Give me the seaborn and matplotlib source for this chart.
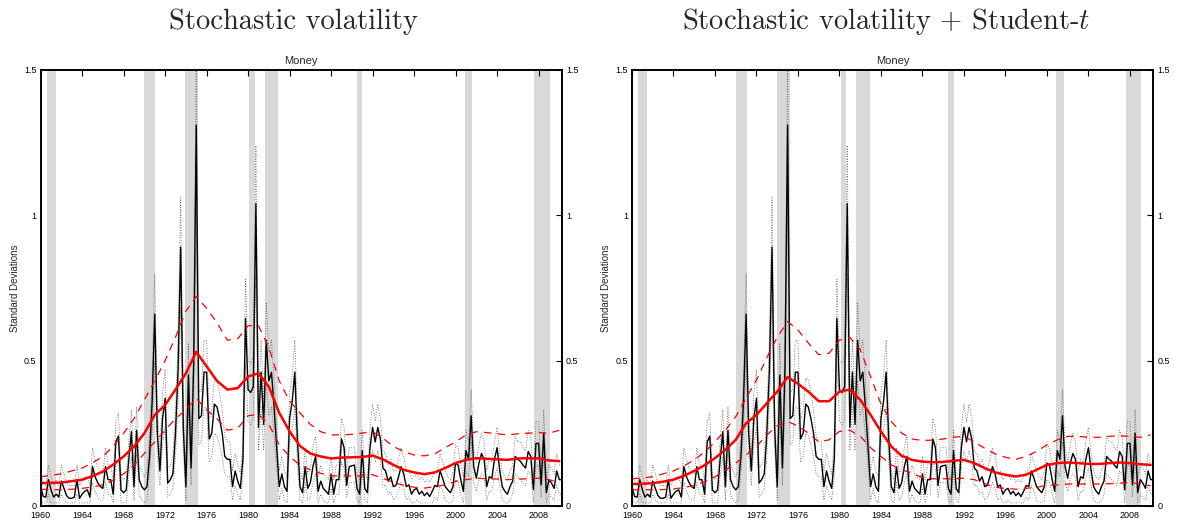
import numpy as np
import pandas as pd
import matplotlib
matplotlib.use("Agg")
import matplotlib.pyplot as plt
import seaborn as sns

# quarterly posterior median of the money shock standard deviation (1960Q1 - 2010Q2)
sv_median = [
    0.066, 0.032, 0.030, 0.090,  0.055, 0.030, 0.040, 0.030,  0.085, 0.060, 0.035, 0.026,
    0.026, 0.030, 0.090, 0.026,  0.040, 0.050, 0.055, 0.030,  0.135, 0.100, 0.080, 0.066,
    0.060, 0.135, 0.090, 0.090,  0.040, 0.220, 0.240, 0.055,  0.045, 0.055, 0.160, 0.255,
    0.066, 0.260, 0.090, 0.066,  0.055, 0.066, 0.170, 0.360,  0.660, 0.250, 0.120, 0.300,
    0.370, 0.078, 0.090, 0.110,  0.250, 0.470, 0.890, 0.270,  0.066, 0.450, 0.130, 0.480,
    1.310, 0.300, 0.310, 0.460,  0.460, 0.230, 0.250, 0.350,  0.340, 0.300, 0.250, 0.170,
    0.160, 0.160, 0.066, 0.120,  0.085, 0.060, 0.160, 0.645,  0.400, 0.390, 0.410, 1.040,
    0.270, 0.460, 0.280, 0.570,  0.430, 0.460, 0.340, 0.200,  0.066, 0.110, 0.066, 0.050,
    0.300, 0.360, 0.460, 0.230,  0.066, 0.045, 0.135, 0.060,  0.080, 0.135, 0.170, 0.050,
    0.085, 0.060, 0.050, 0.040,  0.110, 0.040, 0.090, 0.090,  0.230, 0.200, 0.070, 0.135,
    0.138, 0.140, 0.060, 0.040,  0.190, 0.060, 0.045, 0.200,  0.270, 0.220, 0.270, 0.230,
    0.130, 0.120, 0.085, 0.100,  0.066, 0.070, 0.100, 0.135,  0.110, 0.066, 0.072, 0.040,
    0.055, 0.060, 0.040, 0.050,  0.035, 0.045, 0.032, 0.050,  0.070, 0.066, 0.120, 0.095,
    0.066, 0.055, 0.045, 0.066,  0.147, 0.140, 0.090, 0.050,  0.190, 0.160, 0.310, 0.135,
    0.095, 0.147, 0.180, 0.160,  0.066, 0.100, 0.095, 0.160,  0.200, 0.124, 0.066, 0.050,
    0.040, 0.066, 0.085, 0.170,  0.160, 0.153, 0.140, 0.130,  0.187, 0.170, 0.055, 0.215,
    0.215, 0.072, 0.250, 0.045,  0.090, 0.078, 0.060, 0.120,  0.090, 0.090,
]
sv_upper = [
    0.12, 0.08, 0.07, 0.14,  0.10, 0.07, 0.09, 0.07,  0.14, 0.11, 0.08, 0.07,
    0.07, 0.07, 0.14, 0.07,  0.09, 0.10, 0.10, 0.07,  0.20, 0.16, 0.13, 0.12,
    0.11, 0.20, 0.14, 0.14,  0.09, 0.29, 0.32, 0.10,  0.09, 0.10, 0.22, 0.33,
    0.12, 0.34, 0.14, 0.12,  0.10, 0.12, 0.24, 0.45,  0.80, 0.33, 0.18, 0.39,
    0.47, 0.13, 0.14, 0.17,  0.33, 0.58, 1.06, 0.35,  0.12, 0.56, 0.19, 0.59,
    1.55, 0.39, 0.40, 0.57,  0.57, 0.30, 0.33, 0.44,  0.43, 0.39, 0.33, 0.24,
    0.22, 0.22, 0.12, 0.18,  0.14, 0.11, 0.22, 0.78,  0.50, 0.49, 0.51, 1.24,
    0.35, 0.57, 0.36, 0.70,  0.53, 0.57, 0.43, 0.27,  0.12, 0.17, 0.12, 0.10,
    0.39, 0.45, 0.57, 0.30,  0.12, 0.09, 0.20, 0.11,  0.13, 0.20, 0.24, 0.10,
    0.14, 0.11, 0.10, 0.09,  0.17, 0.09, 0.14, 0.14,  0.30, 0.27, 0.12, 0.20,
    0.20, 0.20, 0.11, 0.09,  0.26, 0.11, 0.09, 0.27,  0.35, 0.29, 0.35, 0.30,
    0.19, 0.18, 0.14, 0.16,  0.12, 0.12, 0.16, 0.20,  0.17, 0.12, 0.12, 0.09,
    0.10, 0.11, 0.09, 0.10,  0.08, 0.09, 0.08, 0.10,  0.12, 0.12, 0.18, 0.15,
    0.12, 0.10, 0.09, 0.12,  0.21, 0.20, 0.14, 0.10,  0.26, 0.22, 0.40, 0.20,
    0.15, 0.21, 0.25, 0.22,  0.12, 0.16, 0.15, 0.22,  0.27, 0.18, 0.12, 0.10,
    0.09, 0.12, 0.14, 0.24,  0.22, 0.22, 0.20, 0.19,  0.26, 0.24, 0.10, 0.29,
    0.29, 0.12, 0.33, 0.09,  0.14, 0.13, 0.11, 0.18,  0.14, 0.14,
]
sv_lower = [
    0.02, 0.01, 0.01, 0.04,  0.01, 0.01, 0.01, 0.01,  0.04, 0.02, 0.01, 0.01,
    0.01, 0.01, 0.04, 0.01,  0.01, 0.01, 0.01, 0.01,  0.08, 0.05, 0.03, 0.02,
    0.02, 0.08, 0.04, 0.04,  0.01, 0.15, 0.16, 0.01,  0.01, 0.01, 0.10, 0.17,
    0.02, 0.18, 0.04, 0.02,  0.01, 0.02, 0.11, 0.26,  0.50, 0.17, 0.07, 0.21,
    0.27, 0.03, 0.04, 0.06,  0.17, 0.35, 0.68, 0.19,  0.02, 0.33, 0.07, 0.35,
    1.02, 0.21, 0.22, 0.34,  0.34, 0.15, 0.17, 0.25,  0.24, 0.21, 0.17, 0.11,
    0.10, 0.10, 0.02, 0.07,  0.04, 0.02, 0.10, 0.49,  0.29, 0.28, 0.30, 0.80,
    0.19, 0.34, 0.19, 0.43,  0.31, 0.34, 0.24, 0.13,  0.02, 0.06, 0.02, 0.01,
    0.21, 0.26, 0.34, 0.15,  0.02, 0.01, 0.08, 0.02,  0.03, 0.08, 0.11, 0.01,
    0.04, 0.02, 0.01, 0.01,  0.06, 0.01, 0.04, 0.04,  0.15, 0.13, 0.03, 0.08,
    0.08, 0.08, 0.02, 0.01,  0.12, 0.02, 0.01, 0.13,  0.19, 0.15, 0.19, 0.15,
    0.07, 0.07, 0.04, 0.05,  0.02, 0.03, 0.05, 0.08,  0.06, 0.02, 0.03, 0.01,
    0.01, 0.02, 0.01, 0.01,  0.01, 0.01, 0.01, 0.01,  0.03, 0.02, 0.07, 0.05,
    0.02, 0.01, 0.01, 0.02,  0.09, 0.08, 0.04, 0.01,  0.12, 0.10, 0.22, 0.08,
    0.05, 0.09, 0.11, 0.10,  0.02, 0.05, 0.05, 0.10,  0.13, 0.07, 0.02, 0.01,
    0.01, 0.02, 0.04, 0.11,  0.10, 0.09, 0.08, 0.07,  0.12, 0.11, 0.01, 0.14,
    0.14, 0.03, 0.17, 0.01,  0.04, 0.03, 0.02, 0.07,  0.04, 0.04,
]

# yearly smooth (red) estimates, 1960 - 2010
trend_years = list(range(1960, 2011))
sv_trend = [
    0.078, 0.079, 0.080, 0.085, 0.090, 0.102, 0.118, 0.142, 0.170, 0.204,
    0.250, 0.313, 0.347, 0.400, 0.456, 0.530, 0.480, 0.430, 0.400, 0.405,
    0.445, 0.456, 0.410, 0.320, 0.256, 0.206, 0.180, 0.170, 0.163, 0.166,
    0.167, 0.168, 0.173, 0.160, 0.141, 0.124, 0.115, 0.109, 0.115, 0.130,
    0.147, 0.158, 0.164, 0.162, 0.160, 0.158, 0.163, 0.164, 0.163, 0.156,
    0.154,
]
sv_trend_hi = [
    0.100, 0.105, 0.110, 0.120, 0.130, 0.148, 0.170, 0.205, 0.250, 0.300,
    0.365, 0.430, 0.500, 0.580, 0.670, 0.720, 0.680, 0.630, 0.570, 0.575,
    0.620, 0.620, 0.545, 0.430, 0.360, 0.320, 0.280, 0.255, 0.244, 0.244,
    0.246, 0.250, 0.255, 0.233, 0.204, 0.187, 0.175, 0.172, 0.179, 0.200,
    0.220, 0.244, 0.255, 0.252, 0.248, 0.244, 0.248, 0.250, 0.252, 0.250,
    0.260,
]
sv_trend_lo = [
    0.057, 0.056, 0.055, 0.057, 0.060, 0.065, 0.072, 0.088, 0.110, 0.140,
    0.180, 0.220, 0.260, 0.300, 0.330, 0.370, 0.330, 0.300, 0.260, 0.267,
    0.310, 0.315, 0.280, 0.210, 0.170, 0.140, 0.124, 0.112, 0.103, 0.103,
    0.103, 0.103, 0.107, 0.095, 0.080, 0.071, 0.064, 0.061, 0.066, 0.072,
    0.084, 0.090, 0.095, 0.093, 0.092, 0.090, 0.092, 0.093, 0.095, 0.090,
    0.080,
]
svt_trend = [
    0.075, 0.076, 0.078, 0.083, 0.090, 0.103, 0.120, 0.140, 0.164, 0.193,
    0.227, 0.284, 0.313, 0.353, 0.393, 0.443, 0.420, 0.393, 0.360, 0.360,
    0.393, 0.400, 0.365, 0.313, 0.256, 0.204, 0.172, 0.158, 0.152, 0.150,
    0.151, 0.155, 0.158, 0.147, 0.130, 0.115, 0.107, 0.101, 0.107, 0.124,
    0.141, 0.147, 0.149, 0.147, 0.144, 0.144, 0.147, 0.149, 0.147, 0.143,
    0.141,
]
svt_trend_hi = [
    0.093, 0.096, 0.100, 0.110, 0.120, 0.137, 0.158, 0.185, 0.220, 0.260,
    0.307, 0.370, 0.433, 0.510, 0.580, 0.634, 0.605, 0.560, 0.520, 0.525,
    0.570, 0.580, 0.537, 0.445, 0.350, 0.290, 0.250, 0.230, 0.225, 0.226,
    0.230, 0.236, 0.239, 0.220, 0.198, 0.179, 0.167, 0.160, 0.170, 0.187,
    0.210, 0.227, 0.239, 0.239, 0.236, 0.236, 0.239, 0.241, 0.239, 0.236,
    0.244,
]
svt_trend_lo = [
    0.055, 0.055, 0.055, 0.056, 0.058, 0.063, 0.070, 0.083, 0.100, 0.122,
    0.147, 0.175, 0.204, 0.244, 0.275, 0.290, 0.275, 0.250, 0.220, 0.227,
    0.256, 0.260, 0.240, 0.200, 0.170, 0.141, 0.124, 0.112, 0.097, 0.093,
    0.093, 0.093, 0.095, 0.090, 0.076, 0.064, 0.060, 0.057, 0.060, 0.064,
    0.070, 0.072, 0.075, 0.075, 0.075, 0.075, 0.076, 0.078, 0.080, 0.076,
    0.069,
]

recessions = [(1960.6, 1961.45), (1970.0, 1971.05), (1973.95, 1975.2), (1980.1, 1980.65),
              (1981.6, 1982.9), (1990.5, 1991.0), (2000.9, 2001.6), (2007.6, 2009.1)]

quarters = pd.period_range("1960Q1", periods=len(sv_median), freq="Q")
qdates = quarters.year + (quarters.quarter - 1) / 4.0

panel_titles = ["Stochastic volatility", "Stochastic volatility + Student-$t$"]
panel_trends = [(sv_trend, sv_trend_hi, sv_trend_lo), (svt_trend, svt_trend_hi, svt_trend_lo)]

sns.set_style("white")
plt.rcParams["font.family"] = ["Liberation Sans", "DejaVu Sans"]
plt.rcParams["mathtext.fontset"] = "cm"

fig = plt.figure(figsize=(11.78, 5.22), dpi=100)
axes = [fig.add_axes([0.0345, 0.031, 0.4425, 0.835]),
        fig.add_axes([0.5365, 0.031, 0.4425, 0.835])]

for ax, title, (trend, trend_hi, trend_lo), cx in zip(axes, panel_titles, panel_trends, [0.249, 0.752]):
    for a, b in recessions:
        ax.axvspan(a, b, color="#d9d9d9", lw=0, zorder=0)

    sns.lineplot(x=qdates, y=sv_upper, ax=ax, color="0.35", lw=0.6, linestyle=(0, (1, 2)))
    sns.lineplot(x=qdates, y=sv_lower, ax=ax, color="0.35", lw=0.6, linestyle=(0, (1, 2)))
    sns.lineplot(x=qdates, y=sv_median, ax=ax, color="black", lw=1.0)
    sns.lineplot(x=trend_years, y=trend_hi, ax=ax, color="red", lw=0.9, linestyle=(0, (6, 5)))
    sns.lineplot(x=trend_years, y=trend_lo, ax=ax, color="red", lw=0.9, linestyle=(0, (6, 5)))
    sns.lineplot(x=trend_years, y=trend, ax=ax, color="red", lw=1.8)

    ax.set_xlim(1960, 2010.25)
    ax.set_ylim(0, 1.5)
    ax.set_xticks(range(1960, 2010, 4))
    ax.set_yticks([0, 0.5, 1, 1.5])
    ax.set_yticklabels(["0", "0.5", "1", "1.5"])
    ax.tick_params(direction="in", length=4, width=0.8, labelsize=6.5,
                   top=True, right=True, labelright=True, colors="black")
    ax.tick_params(axis="x", pad=4)
    ax.tick_params(axis="y", pad=3)
    for s in ax.spines.values():
        s.set_visible(True)
        s.set_linewidth(1.4)
        s.set_color("black")
    ax.set_title("Money", fontsize=8, pad=4)
    ax.set_ylabel("Standard Deviations", fontsize=7, labelpad=3)
    ax.set_xlabel("")
    fig.text(cx, 0.958, title, ha="center", va="center", fontsize=20.5, family="cmr10")

fig.savefig("out.png", dpi=100)
